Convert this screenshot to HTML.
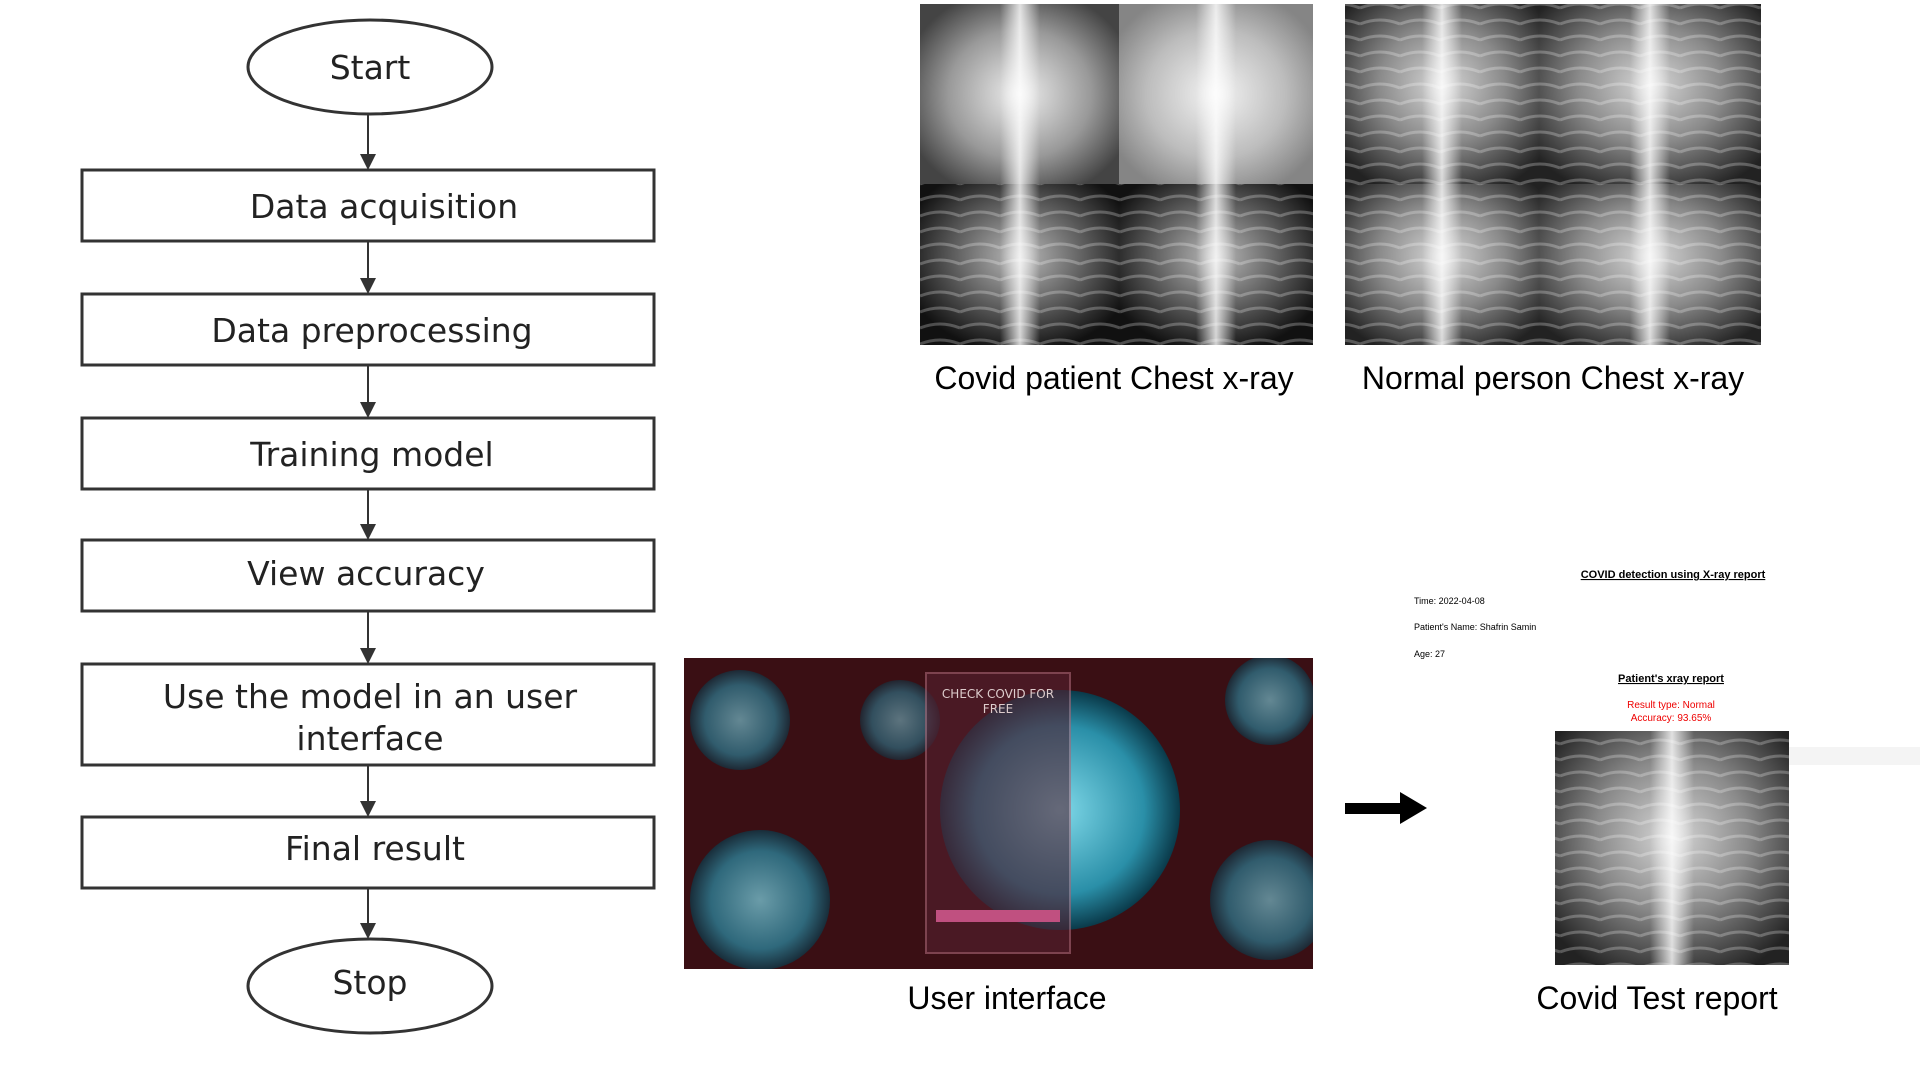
<!DOCTYPE html>
<html><head><meta charset="utf-8"><style>
html,body{margin:0;padding:0;background:#fff;width:1920px;height:1080px;overflow:hidden}
svg{display:block}
text{font-family:"DejaVu Sans","Liberation Sans",sans-serif}
.cap{font-family:"Liberation Sans",sans-serif;font-size:32px;fill:#000}
</style></head><body>
<svg width="1920" height="1080" viewBox="0 0 1920 1080">
<defs>
<radialGradient id="lung" cx="50%" cy="45%" r="65%"><stop offset="0" stop-color="#d8d8d8"/><stop offset="0.5" stop-color="#8a8a8a"/><stop offset="1" stop-color="#222"/></radialGradient>
<radialGradient id="lungd" cx="50%" cy="45%" r="60%"><stop offset="0" stop-color="#bbb"/><stop offset="0.5" stop-color="#666"/><stop offset="1" stop-color="#111"/></radialGradient>
<radialGradient id="lungc" cx="50%" cy="50%" r="60%"><stop offset="0" stop-color="#eee"/><stop offset="0.6" stop-color="#999"/><stop offset="1" stop-color="#444"/></radialGradient>
<linearGradient id="spine" x1="0" x2="1"><stop offset="0" stop-color="#fff" stop-opacity="0"/><stop offset="0.5" stop-color="#fff" stop-opacity="0.8"/><stop offset="1" stop-color="#fff" stop-opacity="0"/></linearGradient>
<radialGradient id="virus" cx="50%" cy="50%" r="50%"><stop offset="0" stop-color="#7fd8e8"/><stop offset="0.7" stop-color="#2a8fa8"/><stop offset="1" stop-color="#0a3a4a"/></radialGradient>
<clipPath id="uiclip"><rect x="684" y="658" width="629" height="311"/></clipPath>
<pattern id="ribs" width="40" height="16" patternUnits="userSpaceOnUse"><path d="M0,8 Q20,0 40,8" stroke="#fff" stroke-opacity="0.25" stroke-width="3" fill="none"/></pattern>
<marker id="ah" markerWidth="8" markerHeight="8" refX="6" refY="4" orient="auto"><path d="M0,0 L8,4 L0,8z" fill="#333"/></marker>
</defs>

<g stroke="#333" stroke-width="3" fill="none">
<ellipse cx="370" cy="67" rx="122" ry="47"/>
<rect x="82" y="170" width="572" height="71"/>
<rect x="82" y="294" width="572" height="71"/>
<rect x="82" y="418" width="572" height="71"/>
<rect x="82" y="540" width="572" height="71"/>
<rect x="82" y="664" width="572" height="101"/>
<rect x="82" y="817" width="572" height="71"/>
<ellipse cx="370" cy="986" rx="122" ry="47"/>
<g stroke-width="2" marker-end="url(#ah)">
<line x1="368" y1="114" x2="368" y2="166"/><line x1="368" y1="241" x2="368" y2="290"/>
<line x1="368" y1="365" x2="368" y2="414"/><line x1="368" y1="489" x2="368" y2="536"/>
<line x1="368" y1="611" x2="368" y2="660"/><line x1="368" y1="765" x2="368" y2="813"/>
<line x1="368" y1="888" x2="368" y2="935"/>
</g>
</g>
<g font-size="33" fill="#222" text-anchor="middle">
<text x="370" y="79">Start</text>
<text x="384" y="218">Data acquisition</text>
<text x="372" y="342">Data preprocessing</text>
<text x="372" y="466">Training model</text>
<text x="366" y="585">View accuracy</text>
<text x="370" y="708">Use the model in an user</text>
<text x="370" y="750">interface</text>
<text x="375" y="860">Final result</text>
<text x="370" y="994">Stop</text>
</g>

<g>
<rect x="920" y="4" width="199" height="180" fill="url(#lungc)"/>
<rect x="1119" y="4" width="194" height="180" fill="url(#lungc)"/>
<rect x="1119" y="4" width="194" height="180" fill="#fff" opacity="0.35"/>
<rect x="920" y="184" width="199" height="161" fill="url(#lungd)"/>
<rect x="1119" y="184" width="194" height="161" fill="url(#lungd)"/>
<rect x="920" y="184" width="393" height="161" fill="url(#ribs)"/>
<rect x="1000" y="4" width="40" height="341" fill="url(#spine)"/>
<rect x="1196" y="4" width="40" height="341" fill="url(#spine)"/>
</g>
<g>
<rect x="1345" y="4" width="194" height="180" fill="url(#lung)"/>
<rect x="1539" y="4" width="222" height="180" fill="url(#lung)"/>
<rect x="1345" y="184" width="194" height="161" fill="url(#lung)"/>
<rect x="1539" y="184" width="222" height="161" fill="url(#lung)"/>
<rect x="1345" y="4" width="416" height="341" fill="url(#ribs)"/>
<rect x="1422" y="4" width="40" height="341" fill="url(#spine)"/>
<rect x="1630" y="4" width="40" height="341" fill="url(#spine)"/>
</g>
<text class="cap" x="1114" y="389" text-anchor="middle">Covid patient Chest x-ray</text>
<text class="cap" x="1553" y="389" text-anchor="middle">Normal person Chest x-ray</text>

<g clip-path="url(#uiclip)">
<rect x="684" y="658" width="629" height="311" fill="#3a0f14"/>
<circle cx="1060" cy="810" r="120" fill="url(#virus)"/>
<circle cx="740" cy="720" r="50" fill="url(#virus)" opacity="0.6"/>
<circle cx="900" cy="720" r="40" fill="url(#virus)" opacity="0.5"/>
<circle cx="1270" cy="700" r="45" fill="url(#virus)" opacity="0.6"/>
<circle cx="760" cy="900" r="70" fill="url(#virus)" opacity="0.7"/>
<circle cx="1270" cy="900" r="60" fill="url(#virus)" opacity="0.6"/>
<rect x="926" y="673" width="144" height="280" fill="#552030" opacity="0.6" stroke="#a67" stroke-width="2"/>
<text x="998" y="698" font-size="12" fill="#dcc" text-anchor="middle">CHECK COVID FOR</text>
<text x="998" y="713" font-size="12" fill="#dcc" text-anchor="middle">FREE</text>
<rect x="936" y="910" width="124" height="12" fill="#c05080"/>
</g>
<text class="cap" x="1007" y="1009" text-anchor="middle">User interface</text>

<g>
<rect x="1345" y="803" width="60" height="11" fill="#000"/>
<path d="M1400,792 L1427,808 L1400,824z" fill="#000"/>
</g>

<g>
<text x="1673" y="578" font-size="11" font-weight="bold" text-anchor="middle" text-decoration="underline" style="font-family:'Liberation Sans',sans-serif">COVID detection using X-ray report</text>
<text x="1414" y="604" font-size="9" style="font-family:'Liberation Sans',sans-serif">Time:  2022-04-08</text>
<text x="1414" y="630" font-size="9" style="font-family:'Liberation Sans',sans-serif">Patient's Name: Shafrin Samin</text>
<text x="1414" y="657" font-size="9" style="font-family:'Liberation Sans',sans-serif">Age: 27</text>
<text x="1671" y="682" font-size="11" font-weight="bold" text-anchor="middle" text-decoration="underline" style="font-family:'Liberation Sans',sans-serif">Patient's xray report</text>
<text x="1671" y="708" font-size="10" fill="#e00" text-anchor="middle" style="font-family:'Liberation Sans',sans-serif">Result type: Normal</text>
<text x="1671" y="721" font-size="10" fill="#e00" text-anchor="middle" style="font-family:'Liberation Sans',sans-serif">Accuracy: 93.65%</text>
<rect x="1555" y="731" width="234" height="234" fill="url(#lung)"/>
<rect x="1555" y="731" width="234" height="234" fill="url(#ribs)"/>
<rect x="1650" y="731" width="44" height="234" fill="url(#spine)"/>
<rect x="1789" y="747" width="131" height="18" fill="#f4f4f4"/>
</g>
<text class="cap" x="1657" y="1009" text-anchor="middle">Covid Test report</text>
</svg>
</body></html>
